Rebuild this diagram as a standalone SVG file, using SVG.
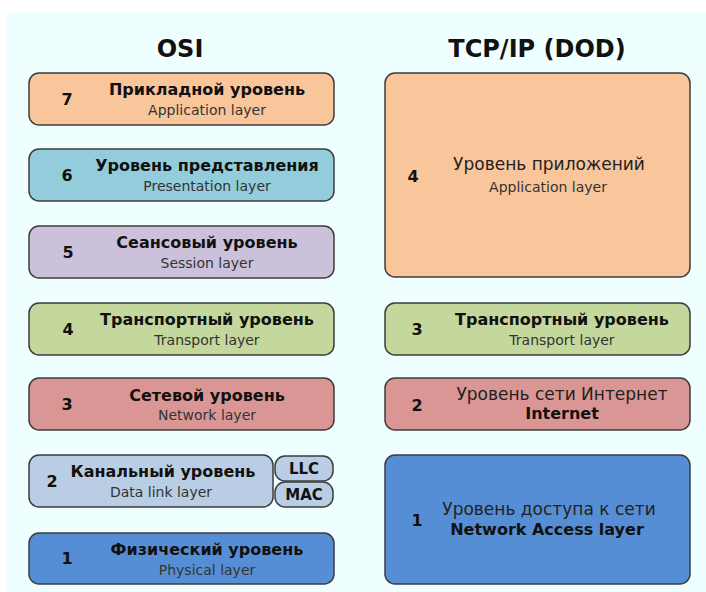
<svg xmlns="http://www.w3.org/2000/svg" width="706" height="592" viewBox="0 0 706 592">
  <style>
    .box { stroke: #3c3c3c; stroke-width: 1.5; }
    .head { font-family: "DejaVu Sans", "Liberation Sans", sans-serif; font-weight: bold; font-size: 24px; fill: #111; text-anchor: middle; }
    .num { font-family: "DejaVu Sans", "Liberation Sans", sans-serif; font-weight: bold; font-size: 16px; fill: #111; text-anchor: middle; }
    .title { font-family: "DejaVu Sans", "Liberation Sans", sans-serif; font-weight: bold; font-size: 16px; fill: #111; text-anchor: middle; }
    .sub { font-family: "DejaVu Sans", "Liberation Sans", sans-serif; font-size: 14px; fill: #333; text-anchor: middle; }
    .reg { font-family: "DejaVu Sans", "Liberation Sans", sans-serif; font-size: 17px; fill: #222; text-anchor: middle; }
    .tag { font-family: "DejaVu Sans", "Liberation Sans", sans-serif; font-weight: bold; font-size: 15px; fill: #111; text-anchor: middle; }
    .c7 { fill: #f9c59b; }
    .c6 { fill: #93cddc; }
    .c5 { fill: #ccc1da; }
    .c4 { fill: #c4d79c; }
    .c3 { fill: #da9694; }
    .c2 { fill: #b9cde4; }
    .c1 { fill: #568ed5; }
  </style>

  <!-- backdrop -->
  <rect x="7" y="12" width="699" height="580" fill="#effeff"/>

  <text class="head" x="180" y="57">OSI</text>
  <text class="head" x="537" y="57">TCP/IP (DOD)</text>

  <!-- OSI stack -->
  <g id="osi-7">
    <rect class="box c7" x="29" y="73" width="305" height="52" rx="10"/>
    <text class="num" x="67" y="105">7</text>
    <text class="title" x="207" y="95">Прикладной уровень</text>
    <text class="sub" x="207" y="115">Application layer</text>
  </g>
  <g id="osi-6">
    <rect class="box c6" x="29" y="149" width="305" height="52" rx="10"/>
    <text class="num" x="67" y="181">6</text>
    <text class="title" x="207" y="171">Уровень представления</text>
    <text class="sub" x="207" y="191">Presentation layer</text>
  </g>
  <g id="osi-5">
    <rect class="box c5" x="29" y="226" width="305" height="52" rx="10"/>
    <text class="num" x="68" y="258">5</text>
    <text class="title" x="207" y="248">Сеансовый уровень</text>
    <text class="sub" x="207" y="268">Session layer</text>
  </g>
  <g id="osi-4">
    <rect class="box c4" x="29" y="303" width="305" height="52" rx="10"/>
    <text class="num" x="68" y="335">4</text>
    <text class="title" x="207" y="325">Транспортный уровень</text>
    <text class="sub" x="207" y="345">Transport layer</text>
  </g>
  <g id="osi-3">
    <rect class="box c3" x="29" y="378" width="305" height="52" rx="10"/>
    <text class="num" x="67" y="410">3</text>
    <text class="title" x="207" y="401">Сетевой уровень</text>
    <text class="sub" x="207" y="420">Network layer</text>
  </g>
  <g id="osi-2">
    <rect class="box c2" x="29" y="455" width="244" height="52" rx="10"/>
    <text class="num" x="52" y="487">2</text>
    <text class="title" x="163" y="477">Канальный уровень</text>
    <text class="sub" x="161" y="497">Data link layer</text>
  </g>
  <g id="osi-2-llc">
    <rect class="box c2" x="275" y="456" width="58" height="25" rx="10"/>
    <text class="tag" x="304" y="474">LLC</text>
  </g>
  <g id="osi-2-mac">
    <rect class="box c2" x="275" y="482" width="58" height="25" rx="10"/>
    <text class="tag" x="304" y="500">MAC</text>
  </g>
  <g id="osi-1">
    <rect class="box c1" x="29" y="533" width="305" height="51" rx="10"/>
    <text class="num" x="67" y="564">1</text>
    <text class="title" x="207" y="555">Физический уровень</text>
    <text class="sub" x="207" y="575">Physical layer</text>
  </g>

  <!-- TCP/IP stack -->
  <g id="tcp-4">
    <rect class="box c7" x="385" y="73" width="305" height="204" rx="10"/>
    <text class="num" x="413" y="182">4</text>
    <text class="reg" x="549" y="170">Уровень приложений</text>
    <text class="sub" x="548" y="192">Application layer</text>
  </g>
  <g id="tcp-3">
    <rect class="box c4" x="385" y="303" width="305" height="52" rx="10"/>
    <text class="num" x="417" y="335">3</text>
    <text class="title" x="562" y="325">Транспортный уровень</text>
    <text class="sub" x="562" y="345">Transport layer</text>
  </g>
  <g id="tcp-2">
    <rect class="box c3" x="385" y="378" width="305" height="52" rx="10"/>
    <text class="num" x="417" y="411">2</text>
    <text class="reg" x="562" y="400">Уровень сети Интернет</text>
    <text class="title" x="562" y="419">Internet</text>
  </g>
  <g id="tcp-1">
    <rect class="box c1" x="385" y="455" width="305" height="129" rx="10"/>
    <text class="num" x="417" y="526">1</text>
    <text class="reg" x="549" y="515">Уровень доступа к сети</text>
    <text class="title" x="547" y="535">Network Access layer</text>
  </g>
</svg>
